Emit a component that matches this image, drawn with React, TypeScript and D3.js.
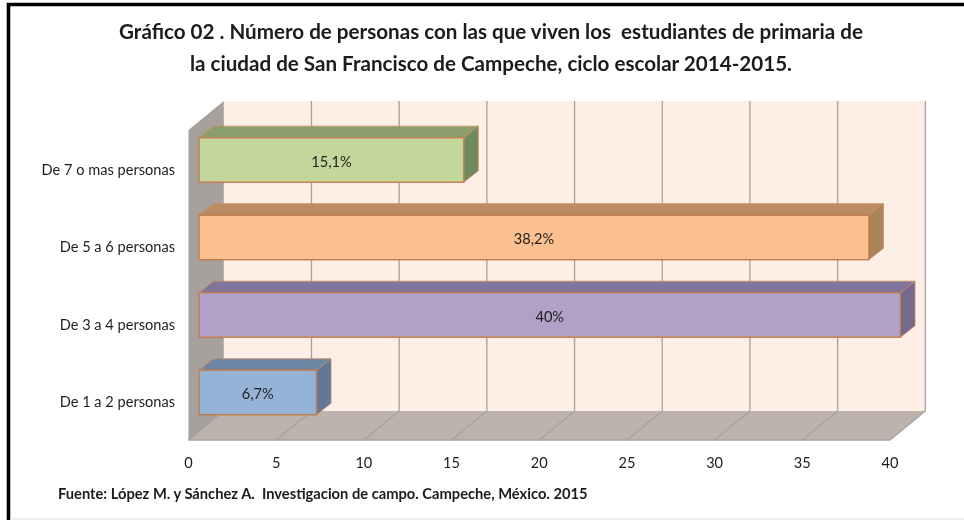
import React from "react";
import * as d3 from "d3";

const categories = ["De 7 o mas personas", "De 5 a 6 personas", "De 3 a 4 personas", "De 1 a 2 personas"];
const values = [15.1, 38.2, 40, 6.7];
const valueLabels = ["15,1%", "38,2%", "40%", "6,7%"];
const faceColors = ["#c3d69b", "#fac090", "#b1a0c7", "#95b3d7"];
const topColors = ["#8a9f6c", "#bb8c64", "#80749a", "#6d86a6"];
const sideColors = ["#6f8a5e", "#ab8359", "#736a8e", "#63779a"];
const ticks = [0, 5, 10, 15, 20, 25, 30, 35, 40];
const titleLines = [
  "Gráfico 02 . Número de personas con las que viven los  estudiantes de primaria de",
  "la ciudad de San Francisco de Campeche, ciclo escolar 2014-2015.",
];
const source = "Fuente: López M. y Sánchez A.  Investigacion de campo. Campeche, México. 2015";

const FONT = "Lato, 'Open Sans', sans-serif";
const TEXT = "#1f1f1f";
const GRID = "#a8a19b";
const EDGE = "#c98a5c";

export default function App() {
  const x = d3.scaleLinear().domain([0, 40]).range([188.5, 890]);
  const y = d3.scaleBand().domain(categories).range([130, 440]);
  const depthX = 35.3, depthY = -29;
  const barDX = 14.5, barDY = -11.5;
  const barStart = 10.5;
  const barH = 44.5;
  const faceOffset = 7.7;
  const pts = (p: number[][]) => p.map((a) => a.join(",")).join(" ");
  const x0 = x(0), x1 = x(40), yT = 130, yB = 440;

  return (
    <svg width={964} height={520} style={{ position: "absolute", left: 0, top: 0, background: "#fff" }}>
      <defs>
        <filter id="soft" x="-2%" y="-2%" width="104%" height="104%">
          <feGaussianBlur stdDeviation="0.45" />
        </filter>
      </defs>
      <g filter="url(#soft)">
        <rect x={0} y={0} width={964} height={520} fill="#fff" />
        <path d="M8.5 520V4.5H964" fill="none" stroke="#000" strokeWidth={3.6} />
        <line x1={10} x2={964} y1={519} y2={519} stroke="#dcdcdc" strokeWidth={1} />

        {/* walls */}
        <rect x={x0 + depthX} y={yT + depthY} width={x1 - x0} height={yB - yT} fill="#fdeee6" />
        <polygon
          points={pts([[x0, yT], [x0 + depthX, yT + depthY], [x0 + depthX, yB + depthY], [x0, yB]])}
          fill="#a6a19d"
        />
        <polygon
          points={pts([[x0, yB], [x1, yB], [x1 + depthX, yB + depthY], [x0 + depthX, yB + depthY]])}
          fill="#bdb2ad"
        />
        {ticks.map((t) => (
          <g key={t}>
            {t > 0 && (
              <line x1={x(t) + depthX} x2={x(t) + depthX} y1={yT + depthY} y2={yB + depthY} stroke={GRID} strokeWidth={1.3} />
            )}
            <line x1={x(t)} x2={x(t) + depthX} y1={yB} y2={yB + depthY} stroke={GRID} strokeWidth={1.3} />
            <text x={x(t)} y={yB + 27.5} textAnchor="middle" fontFamily={FONT} fontSize={14.6} fill={TEXT}>
              {t}
            </text>
          </g>
        ))}
        <line x1={x0} x2={x1} y1={yB} y2={yB} stroke={GRID} strokeWidth={1.3} />

        {/* bars */}
        {categories.map((c, i) => {
          const left = x0 + barStart;
          const w = x(values[i]) - x(0);
          const top = y(c)! + faceOffset;
          return (
            <g key={c}>
              <polygon
                points={pts([[left, top], [left + barDX, top + barDY], [left + w + barDX, top + barDY], [left + w, top]])}
                fill={topColors[i]} stroke={EDGE} strokeWidth={0.8}
              />
              <polygon
                points={pts([[left + w, top], [left + w + barDX, top + barDY], [left + w + barDX, top + barH + barDY], [left + w, top + barH]])}
                fill={sideColors[i]} stroke={EDGE} strokeWidth={0.8}
              />
              <rect x={left} y={top} width={w} height={barH} fill={faceColors[i]} stroke="#c47c4b" strokeWidth={1.4} />
              <text x={left + w / 2} y={top + 29} textAnchor="middle" fontFamily={FONT} fontSize={14.6} fill={TEXT}>
                {valueLabels[i]}
              </text>
              <text x={175} y={y(c)! + y.bandwidth() / 2 + 6} textAnchor="end" fontFamily={FONT} fontSize={14.6} fill={TEXT}>
                {c}
              </text>
            </g>
          );
        })}

        {/* title and source */}
        {titleLines.map((l, i) => (
          <text key={i} x={491} y={39 + i * 31.5} textAnchor="middle" fontFamily={FONT} fontWeight={700} fontSize={20.6} fill="#1a1a1a" xmlSpace="preserve">
            {l}
          </text>
        ))}
        <text x={58} y={499} fontFamily={FONT} fontWeight={700} fontSize={14.7} fill="#1a1a1a" xmlSpace="preserve">
          {source}
        </text>
      </g>
    </svg>
  );
}
